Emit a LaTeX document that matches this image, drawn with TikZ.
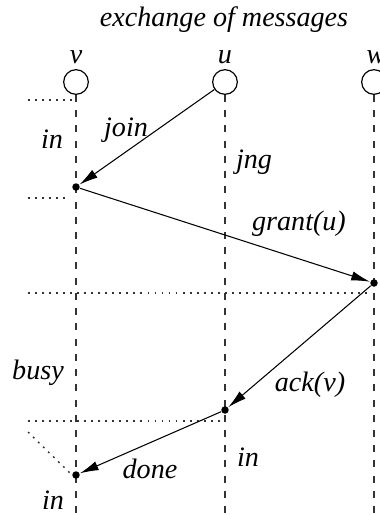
\documentclass[tikz,border=0pt]{standalone}
\usepackage{fontspec}
\setmainfont{Liberation Serif}
\usetikzlibrary{arrows.meta}

\begin{document}
\begin{tikzpicture}[x=0.015cm,y=-0.015cm,>={Latex[length=8pt,width=4pt]},
  every node/.style={font=\itshape\fontsize{12}{14}\selectfont},
  proc/.style={draw,circle,minimum size=0.37cm,inner sep=0pt,line width=0.5pt},
  lifeline/.style={dash pattern=on 3pt off 3.5pt,line width=0.6pt,black!80},
  msg/.style={->,line width=0.45pt},
  guide/.style={dash pattern=on 0.8pt off 2.2pt,line width=0.6pt,black!80},
  event/.style={circle,fill,inner sep=0pt,minimum size=3.2pt}]
  \useasboundingbox (0,0) rectangle (380,515);
  \node (title) at (224,20) {exchange of messages};
  % processes
  \node[proc] (v) at (76,82) {};
  \node[proc] (u) at (225,82) {};
  \node[proc] (w) at (374,82) {};
  \node (vname) at (76,57) {v};
  \node (uname) at (225,57) {u};
  \node (wname) at (376,57) {w};
  \coordinate (vend) at (76,515);
  \coordinate (uend) at (225,515);
  \coordinate (wend) at (374,515);
  \draw[lifeline] (v) -- (vend);
  \draw[lifeline] (u) -- (uend);
  \draw[lifeline] (w) -- (wend);
  % events
  \node[event] (jv) at (76,187) {};
  \node[event] (gw) at (374,283) {};
  \node[event] (au) at (225,410) {};
  \node[event] (dv) at (76,475) {};
  % state boundaries
  \draw[guide] (28,100) -- (72,100);
  \draw[guide] (28,198) -- (70,198);
  \draw[guide] (28,293) -- (370,293);
  \draw[guide] (28,421) -- (220,421);
  \draw[guide] (28,432) -- (72,475);
  % messages
  \draw[msg] (u) -- (jv);
  \draw[msg] (jv) -- (gw);
  \draw[msg] (gw) -- (au);
  \draw[msg] (au) -- (dv);
  \node (join) at (126,130) {join};
  \node (grant) at (299,224) {grant(u)};
  \node (ack) at (310,385) {ack(v)};
  \node (done) at (150,469) {done};
  % states
  \node (vin) at (52,139) {in};
  \node (jng) at (254,162) {jng};
  \node (busy) at (38,373) {busy};
  \node (uin) at (248,457) {in};
  \node (vin2) at (53,500) {in};
\end{tikzpicture}
\end{document}
